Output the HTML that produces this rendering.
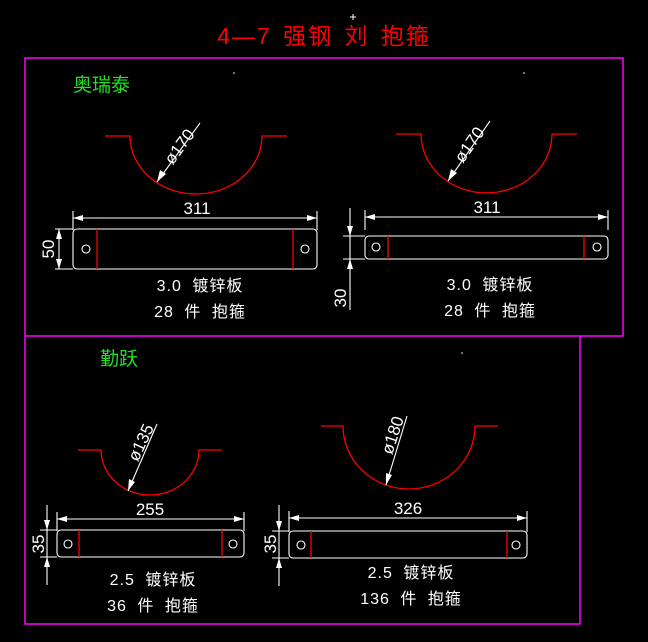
<!DOCTYPE html>
<html><head><meta charset="utf-8"><style>
html,body{margin:0;padding:0;background:#000;width:648px;height:642px;overflow:hidden}
svg{display:block}
.r{stroke:#ff0000;fill:none;stroke-width:1.3}
.w{stroke:#fff;fill:none;stroke-width:1.1}
.a{fill:#fff;stroke:none}
text{font-family:"Liberation Sans","Noto Sans CJK SC",sans-serif;fill:#fff}
.n{font-size:17px}
.c{font-size:16px;letter-spacing:1px;word-spacing:5px}
</style></head><body>
<svg width="648" height="642" viewBox="0 0 648 642" xmlns="http://www.w3.org/2000/svg">
<text x="324" y="44" text-anchor="middle" style="font-size:23px;fill:#ff0000;letter-spacing:2px;word-spacing:3px">4—7 强钢 刘 抱箍</text>
<path d="M353 14v6M350 17h6" stroke="#fff" stroke-width="1"/>
<path d="M25 58H623V336H25Z M25 336V624H580V336" stroke="#ff00ff" stroke-width="1.5" fill="none"/>
<text x="73" y="91" style="font-size:19px;fill:#22e022">奥瑞泰</text>
<text x="100" y="365" style="font-size:19px;fill:#22e022">勤跃</text>

<path class="r" d="M105 136H130A66 58 0 0 0 262 136H287"/>
<line class="w" x1="200" y1="123" x2="157" y2="182"/>
<polygon class="a" points="157,182 160,170 166,174"/>
<text class="n" transform="translate(184,150) rotate(-54)" text-anchor="middle">ø170</text>
<path class="w" d="M73 211V230M317 211V230M73 218H317"/>
<polygon class="a" points="73,218 83,215 83,221"/><polygon class="a" points="317,218 307,215 307,221"/>
<text class="n" x="197" y="214" text-anchor="middle">311</text>
<rect class="w" x="73" y="229" width="244" height="40" rx="4"/>
<path class="r" d="M97 229V269M293 229V269"/>
<circle class="w" cx="86" cy="249" r="4"/><circle class="w" cx="305" cy="249" r="4"/>
<path class="w" d="M55 229H73M55 269H73M59 229V269"/>
<polygon class="a" points="59,229 56,239 62,239"/><polygon class="a" points="59,269 56,259 62,259"/>
<text class="n" transform="translate(54,249) rotate(-90)" text-anchor="middle">50</text>
<text class="c" x="200" y="291" text-anchor="middle">3.0 镀锌板</text>
<text class="c" x="200" y="317" text-anchor="middle">28 件 抱箍</text>

<path class="r" d="M396 134H421A65.5 59 0 0 0 552 134H577"/>
<line class="w" x1="490" y1="121" x2="448" y2="181"/>
<polygon class="a" points="448,181 451,169 457,173"/>
<text class="n" transform="translate(474,148) rotate(-55)" text-anchor="middle">ø170</text>
<path class="w" d="M365 210V230M608 210V230M365 217H608"/>
<polygon class="a" points="365,217 375,214 375,220"/><polygon class="a" points="608,217 598,214 598,220"/>
<text class="n" x="487" y="213" text-anchor="middle">311</text>
<rect class="w" x="365" y="236" width="243" height="23" rx="4"/>
<path class="r" d="M388 236V259M584 236V259"/>
<circle class="w" cx="376" cy="247" r="4"/><circle class="w" cx="597" cy="247" r="4"/>
<path class="w" d="M343 236H365M343 259H365M350 208V310"/>
<polygon class="a" points="350,236 347,226 353,226"/><polygon class="a" points="350,259 347,269 353,269"/>
<text class="n" transform="translate(346,298) rotate(-90)" text-anchor="middle">30</text>
<text class="c" x="490" y="290" text-anchor="middle">3.0 镀锌板</text>
<text class="c" x="490" y="316" text-anchor="middle">28 件 抱箍</text>

<path class="r" d="M78 450H101A49 45 0 0 0 199 450H222"/>
<line class="w" x1="157" y1="424" x2="128" y2="491"/>
<polygon class="a" points="128,491 129,479 135,482"/>
<text class="n" transform="translate(146,445) rotate(-65)" text-anchor="middle">ø135</text>
<path class="w" d="M57 512V531M244 512V531M57 519H244"/>
<polygon class="a" points="57,519 67,516 67,522"/><polygon class="a" points="244,519 234,516 234,522"/>
<text class="n" x="150" y="515" text-anchor="middle">255</text>
<rect class="w" x="57" y="530" width="187" height="27" rx="4"/>
<path class="r" d="M79 530V557M222 530V557"/>
<circle class="w" cx="68" cy="544" r="4"/><circle class="w" cx="233" cy="544" r="4"/>
<path class="w" d="M40 530H57M40 557H57M47 505V585"/>
<polygon class="a" points="47,530 44,520 50,520"/><polygon class="a" points="47,557 44,567 50,567"/>
<text class="n" transform="translate(44,544) rotate(-90)" text-anchor="middle">35</text>
<text class="c" x="153" y="585" text-anchor="middle">2.5 镀锌板</text>
<text class="c" x="153" y="611" text-anchor="middle">36 件 抱箍</text>

<path class="r" d="M321 426H343A66 63 0 0 0 475 426H498"/>
<line class="w" x1="407" y1="416" x2="386" y2="485"/>
<polygon class="a" points="386,485 386,473 392,475"/>
<text class="n" transform="translate(398,437) rotate(-72)" text-anchor="middle">ø180</text>
<path class="w" d="M289 511V532M527 511V532M289 518H527"/>
<polygon class="a" points="289,518 299,515 299,521"/><polygon class="a" points="527,518 517,515 517,521"/>
<text class="n" x="408" y="514" text-anchor="middle">326</text>
<rect class="w" x="289" y="531" width="238" height="27" rx="4"/>
<path class="r" d="M311 531V558M507 531V558"/>
<circle class="w" cx="301" cy="545" r="4"/><circle class="w" cx="516" cy="545" r="4"/>
<path class="w" d="M272 531H289M272 558H289M279 505V586"/>
<polygon class="a" points="279,531 276,521 282,521"/><polygon class="a" points="279,558 276,568 282,568"/>
<text class="n" transform="translate(276,544) rotate(-90)" text-anchor="middle">35</text>
<text class="c" x="411" y="578" text-anchor="middle">2.5 镀锌板</text>
<text class="c" x="411" y="604" text-anchor="middle">136 件 抱箍</text>
<circle cx="234" cy="73" r="0.8" fill="#fff"/><circle cx="524" cy="73" r="0.8" fill="#fff"/><circle cx="462" cy="353" r="0.8" fill="#fff"/>
</svg>
</body></html>
